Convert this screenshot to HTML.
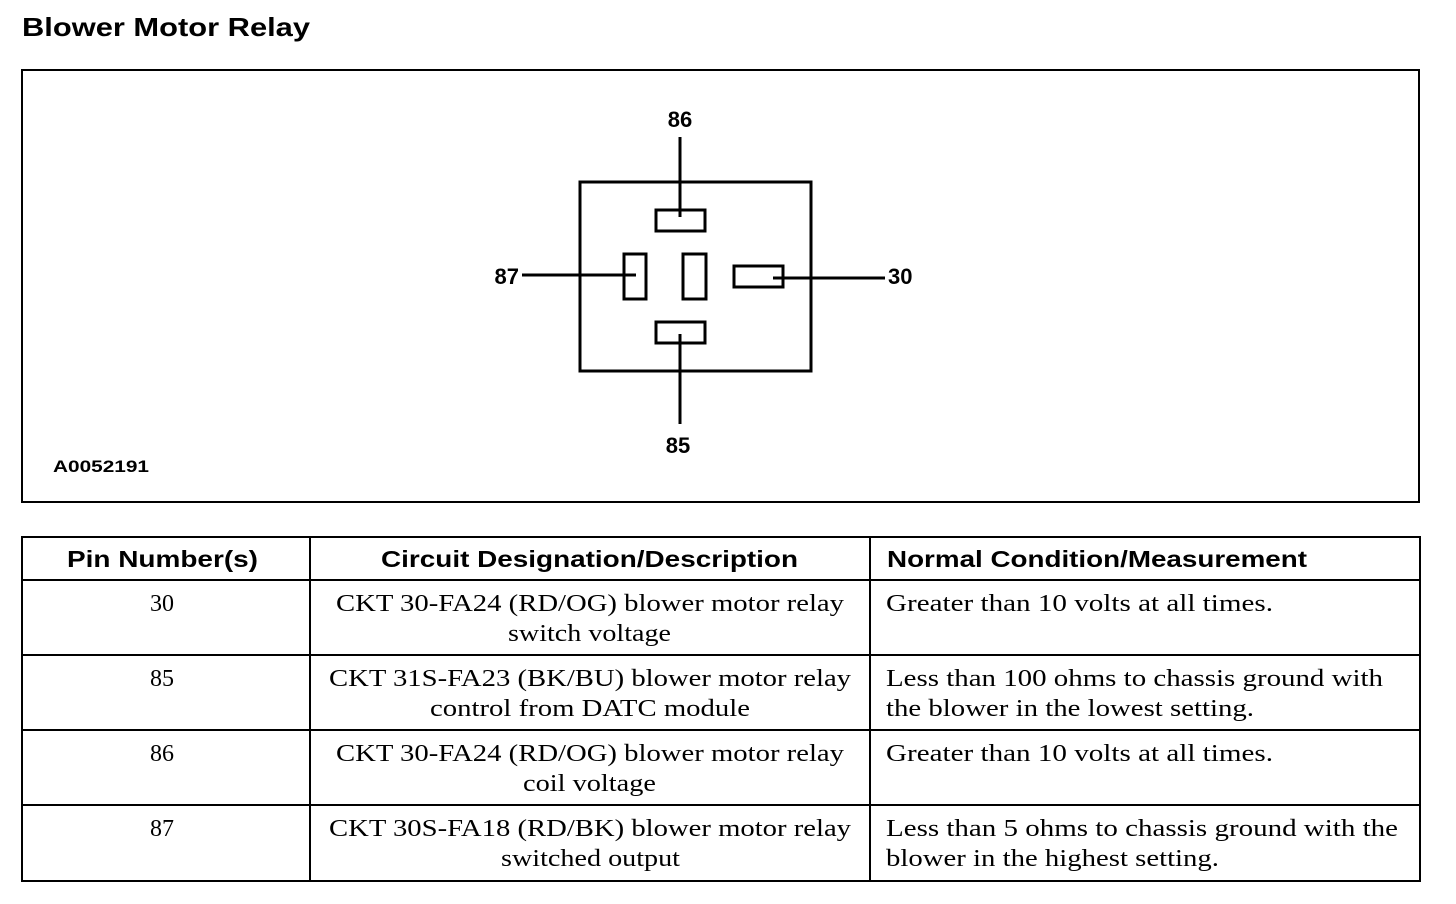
<!DOCTYPE html>
<html><head><meta charset="utf-8"><style>
html,body{margin:0;padding:0;background:#fff;}
svg{display:block;}
.b{font-family:"Liberation Sans",sans-serif;font-weight:bold;fill:#000;}
.s{font-family:"Liberation Serif",serif;font-size:24px;fill:#000;}
</style></head><body>
<svg width="1456" height="904" viewBox="0 0 1456 904" xmlns="http://www.w3.org/2000/svg">
<text class="b" x="22" y="36" font-size="26" textLength="288" lengthAdjust="spacingAndGlyphs">Blower Motor Relay</text>
<rect x="22" y="70" width="1397" height="432" fill="none" stroke="#000" stroke-width="2"/>
<g fill="none" stroke="#000" stroke-width="3">
<rect x="580" y="182" width="231" height="189"/>
<rect x="656" y="210" width="49" height="21"/>
<rect x="624" y="254" width="22" height="45"/>
<rect x="683" y="254" width="23" height="45"/>
<rect x="734" y="266" width="49" height="21"/>
<rect x="656" y="322" width="49" height="21"/>
<line x1="680" y1="137" x2="680" y2="217"/>
<line x1="522" y1="275" x2="636" y2="275"/>
<line x1="773" y1="278" x2="885" y2="278"/>
<line x1="680" y1="334" x2="680" y2="424"/>
</g>
<text class="b" x="680" y="127" font-size="22" text-anchor="middle">86</text>
<text class="b" x="519" y="284" font-size="22" text-anchor="end">87</text>
<text class="b" x="888" y="284" font-size="22">30</text>
<text class="b" x="678" y="453" font-size="22" text-anchor="middle">85</text>
<text class="b" x="53" y="472" font-size="17" textLength="96" lengthAdjust="spacingAndGlyphs">A0052191</text>

<g stroke="#000" stroke-width="2" fill="none">
<rect x="22" y="537" width="1398" height="344"/>
<line x1="22" y1="580" x2="1420" y2="580"/>
<line x1="22" y1="655" x2="1420" y2="655"/>
<line x1="22" y1="730" x2="1420" y2="730"/>
<line x1="22" y1="805" x2="1420" y2="805"/>
<line x1="310" y1="537" x2="310" y2="881"/>
<line x1="870" y1="537" x2="870" y2="881"/>
</g>
<text class="b" x="67" y="567" font-size="23" textLength="191" lengthAdjust="spacingAndGlyphs">Pin Number(s)</text>
<text class="b" x="381" y="567" font-size="23" textLength="417" lengthAdjust="spacingAndGlyphs">Circuit Designation/Description</text>
<text class="b" x="887" y="567" font-size="23" textLength="420" lengthAdjust="spacingAndGlyphs">Normal Condition/Measurement</text>

<g class="s">
<text x="162" y="611" text-anchor="middle">30</text>
<text x="162" y="686" text-anchor="middle">85</text>
<text x="162" y="761" text-anchor="middle">86</text>
<text x="162" y="836" text-anchor="middle">87</text>

<text x="336" y="611" textLength="508" lengthAdjust="spacingAndGlyphs">CKT 30-FA24 (RD/OG) blower motor relay</text>
<text x="508" y="641" textLength="163" lengthAdjust="spacingAndGlyphs">switch voltage</text>
<text x="329" y="686" textLength="522" lengthAdjust="spacingAndGlyphs">CKT 31S-FA23 (BK/BU) blower motor relay</text>
<text x="430" y="716" textLength="320" lengthAdjust="spacingAndGlyphs">control from DATC module</text>
<text x="336" y="761" textLength="508" lengthAdjust="spacingAndGlyphs">CKT 30-FA24 (RD/OG) blower motor relay</text>
<text x="523" y="791" textLength="133" lengthAdjust="spacingAndGlyphs">coil voltage</text>
<text x="329" y="836" textLength="522" lengthAdjust="spacingAndGlyphs">CKT 30S-FA18 (RD/BK) blower motor relay</text>
<text x="501" y="866" textLength="179" lengthAdjust="spacingAndGlyphs">switched output</text>

<text x="886" y="611" textLength="387" lengthAdjust="spacingAndGlyphs">Greater than 10 volts at all times.</text>
<text x="886" y="686" textLength="497" lengthAdjust="spacingAndGlyphs">Less than 100 ohms to chassis ground with</text>
<text x="886" y="716" textLength="368" lengthAdjust="spacingAndGlyphs">the blower in the lowest setting.</text>
<text x="886" y="761" textLength="387" lengthAdjust="spacingAndGlyphs">Greater than 10 volts at all times.</text>
<text x="886" y="836" textLength="512" lengthAdjust="spacingAndGlyphs">Less than 5 ohms to chassis ground with the</text>
<text x="886" y="866" textLength="333" lengthAdjust="spacingAndGlyphs">blower in the highest setting.</text>
</g>
</svg>
</body></html>
